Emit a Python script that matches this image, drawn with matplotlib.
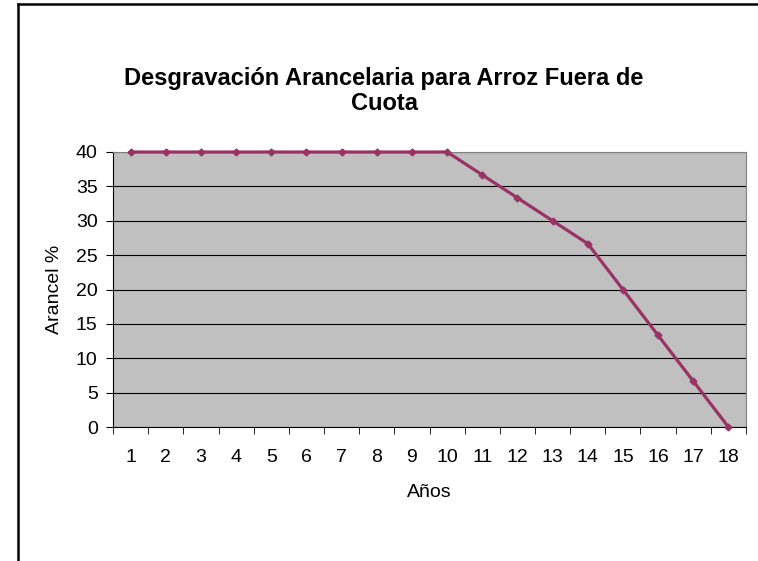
import matplotlib.pyplot as plt
from matplotlib.lines import Line2D

plt.rcParams["font.family"] = ["Liberation Sans", "DejaVu Sans"]

years = list(range(1, 19))
arancel = [40, 40, 40, 40, 40, 40, 40, 40, 40, 40,
           36.67, 33.33, 30, 26.67, 20, 13.33, 6.67, 0]
year_labels = [str(y) for y in years]

fig = plt.figure(figsize=(7.58, 5.61), dpi=100)
ax = fig.add_axes([113 / 758, 1 - 427 / 561, (746 - 113) / 758, (427 - 152) / 561])
ax.set_facecolor("#C0C0C0")

# categories centred between boundary ticks, Excel style
ax.plot(years, arancel, color="#993366", linewidth=2.3, marker="D",
        markersize=3.5, zorder=3, clip_on=False)

ax.set_xlim(0.5, 18.5)
ax.set_ylim(0, 40)
ax.set_yticks(range(0, 41, 5))
ax.set_xticks(years)
ax.set_xticklabels(year_labels)
ax.tick_params(axis="x", length=0, labelsize=14, pad=16)
ax.set_xticks([y + 0.5 for y in range(0, 19)], minor=True)
ax.tick_params(axis="x", which="minor", length=5, direction="out", color="black")
ax.tick_params(axis="y", length=5, direction="out", labelsize=14, pad=6)

ax.yaxis.grid(True, color="black", linewidth=0.8)
ax.set_axisbelow(True)
for side in ["top", "right"]:
    ax.spines[side].set_color("#808080")
for side in ["left", "bottom"]:
    ax.spines[side].set_color("black")

ax.set_ylabel("Arancel %", fontsize=14, labelpad=9)
ax.set_xlabel("Años", fontsize=14, labelpad=13)

fig.text(384 / 758, 1 - 91 / 561,
         "Desgravación Arancelaria para Arroz Fuera de\nCuota",
         ha="center", va="center", fontsize=17, fontweight="bold",
         linespacing=1.1)

# chart frame (left and top edges visible)
fig.add_artist(Line2D([18 / 758, 18 / 758], [0, 1 - 4 / 561], color="black",
                      linewidth=1.8, transform=fig.transFigure))
fig.add_artist(Line2D([18 / 758, 1], [1 - 4 / 561, 1 - 4 / 561], color="black",
                      linewidth=1.8, transform=fig.transFigure))

fig.savefig("out.png", dpi=100)
